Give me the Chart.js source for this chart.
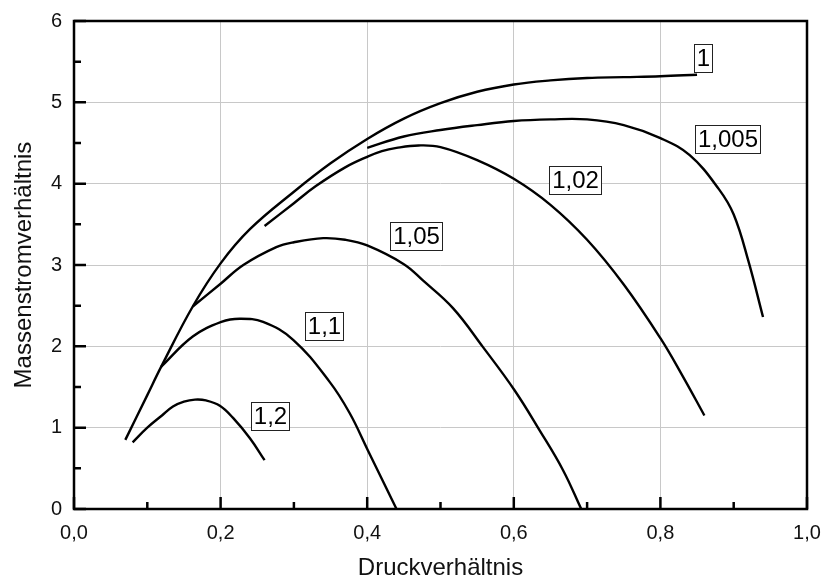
<!DOCTYPE html>
<html>
<head>
<meta charset="utf-8">
<script src="https://cdn.jsdelivr.net/npm/chart.js@4/dist/chart.umd.min.js"></script>
<style>
  html, body { margin: 0; padding: 0; background: #fff; }
  #c { display: block; }
</style>
</head>
<body>
<canvas id="c" width="823" height="583"></canvas>
<script>
// ---- data ----
const seriesNames = ['1', '1,005', '1,02', '1,05', '1,1', '1,2'];

const x_1    = [0.07, 0.10, 0.119, 0.162, 0.20, 0.24, 0.30, 0.35, 0.40, 0.45, 0.50, 0.55, 0.60, 0.65, 0.70, 0.75, 0.80, 0.85];
const y_1    = [0.85, 1.40, 1.75, 2.49, 3.02, 3.44, 3.90, 4.25, 4.55, 4.80, 4.99, 5.13, 5.22, 5.27, 5.30, 5.31, 5.32, 5.34];

const x_1005 = [0.40, 0.45, 0.50, 0.55, 0.60, 0.65, 0.70, 0.75, 0.80, 0.84, 0.88, 0.90, 0.92, 0.94];
const y_1005 = [4.44, 4.58, 4.66, 4.72, 4.77, 4.79, 4.79, 4.72, 4.56, 4.35, 3.93, 3.62, 3.05, 2.36];

const x_102  = [0.26, 0.30, 0.33, 0.37, 0.40, 0.42, 0.44, 0.47, 0.50, 0.55, 0.60, 0.65, 0.70, 0.75, 0.80, 0.83, 0.86];
const y_102  = [3.48, 3.76, 3.97, 4.20, 4.33, 4.40, 4.44, 4.47, 4.45, 4.29, 4.06, 3.74, 3.31, 2.76, 2.10, 1.64, 1.15];

const x_105  = [0.162, 0.20, 0.231, 0.276, 0.30, 0.34, 0.37, 0.40, 0.45, 0.476, 0.517, 0.558, 0.601, 0.635, 0.667, 0.692];
const y_105  = [2.49, 2.77, 3.00, 3.22, 3.28, 3.33, 3.31, 3.24, 3.01, 2.81, 2.47, 1.99, 1.46, 0.97, 0.48, 0.00];

const x_11   = [0.119, 0.162, 0.201, 0.226, 0.258, 0.299, 0.349, 0.376, 0.401, 0.44];
const y_11   = [1.75, 2.12, 2.30, 2.34, 2.30, 2.08, 1.56, 1.18, 0.72, 0.00];

const x_12   = [0.08, 0.10, 0.12, 0.135, 0.15, 0.165, 0.18, 0.199, 0.217, 0.24, 0.26];
const y_12   = [0.82, 1.00, 1.15, 1.26, 1.32, 1.345, 1.335, 1.27, 1.12, 0.87, 0.60];

// label anchors (data coordinates) for the boxed curve labels
const labelAnchorX = [0.858, 0.891, 0.683, 0.467, 0.341, 0.267];
const labelAnchorY = [5.55, 4.555, 4.05, 3.36, 2.25, 1.14];

const xTickValues = [0, 0.2, 0.4, 0.6, 0.8, 1.0];
const yTickValues = [0, 1, 2, 3, 4, 5, 6];

// ---- build datasets ----
const xs = [x_1, x_1005, x_102, x_105, x_11, x_12];
const ys = [y_1, y_1005, y_102, y_105, y_11, y_12];
const datasets = seriesNames.map((name, i) => ({
  label: name,
  data: xs[i].map((x, k) => ({ x: x, y: ys[i][k] })),
  showLine: true,
  borderColor: '#000',
  backgroundColor: '#000',
  borderWidth: 2.4,
  pointRadius: 0,
  fill: false,
  tension: 0.4
}));

const FONT = 'Arial, "Liberation Sans", sans-serif';
const fmtComma = v => Number(v).toFixed(1).replace('.', ',');

const framePlugin = {
  id: 'frame',
  afterDatasetsDraw(chart) {
    const { ctx, chartArea: a, scales } = chart;
    const sx = scales.x, sy = scales.y;
    ctx.save();
    // curve labels in boxes
    ctx.font = '24px ' + FONT;
    ctx.textAlign = 'center';
    ctx.textBaseline = 'middle';
    seriesNames.forEach((t, i) => {
      const cx = sx.getPixelForValue(labelAnchorX[i]);
      const cy = sy.getPixelForValue(labelAnchorY[i]);
      const w = Math.round(ctx.measureText(t).width + 5);
      const h = 28;
      const l = Math.round(cx - w / 2), tp = Math.round(cy - h / 2);
      ctx.fillStyle = '#fff';
      ctx.fillRect(l, tp, w, h);
      ctx.strokeStyle = '#222';
      ctx.lineWidth = 1;
      ctx.strokeRect(l + 0.5, tp + 0.5, w, h);
      ctx.fillStyle = '#000';
      ctx.fillText(t, l + w / 2 + 0.5, tp + h / 2 + 1.5);
    });
    // inward tick marks
    ctx.strokeStyle = '#000';
    ctx.lineWidth = 2.5;
    ctx.beginPath();
    for (let k = 0; k <= 10; k++) {
      const px = sx.getPixelForValue(k / 10);
      const len = (k % 2 === 0) ? 12 : 7;
      ctx.moveTo(px, a.bottom);
      ctx.lineTo(px, a.bottom - len);
    }
    for (let k = 0; k <= 12; k++) {
      const py = sy.getPixelForValue(k / 2);
      const len = (k % 2 === 0) ? 12 : 7;
      ctx.moveTo(a.left, py);
      ctx.lineTo(a.left + len, py);
    }
    ctx.stroke();
    // frame
    ctx.lineWidth = 2.5;
    ctx.strokeRect(a.left, a.top, a.right - a.left, a.bottom - a.top);
    ctx.restore();
  }
};

new Chart(document.getElementById('c'), {
  type: 'scatter',
  data: { datasets },
  options: {
    responsive: false,
    animation: false,
    layout: { padding: { top: 21, right: 16, left: 0, bottom: 0 } },
    plugins: { legend: { display: false }, tooltip: { enabled: false } },
    scales: {
      x: {
        type: 'linear', position: 'bottom', min: 0, max: 1,
        afterFit: s => { s.height = 74; s.paddingLeft = 0; s.paddingRight = 0; },
        afterBuildTicks: s => { s.ticks = xTickValues.map(v => ({ value: v })); },
        grid: { color: '#c8c8c8', lineWidth: 1, drawTicks: false },
        border: { display: false },
        ticks: { font: { family: FONT, size: 20 }, color: '#111', padding: 12, maxRotation: 0,
                 callback: v => fmtComma(v) },
        title: { display: true, text: 'Druckverhältnis', color: '#111',
                 font: { family: FONT, size: 24 }, padding: { top: 0, bottom: 0 } }
      },
      y: {
        type: 'linear', position: 'left', min: 0, max: 6,
        afterFit: s => { s.width = 74; s.paddingTop = 0; s.paddingBottom = 0; },
        afterBuildTicks: s => { s.ticks = yTickValues.map(v => ({ value: v })); },
        grid: { color: '#c8c8c8', lineWidth: 1, drawTicks: false },
        border: { display: false },
        ticks: { font: { family: FONT, size: 20 }, color: '#111', padding: 12,
                 callback: v => String(v) },
        title: { display: true, text: 'Massenstromverhältnis', color: '#111',
                 font: { family: FONT, size: 24 }, padding: { top: 10, bottom: 0 } }
      }
    }
  },
  plugins: [framePlugin]
});
</script>
</body>
</html>
